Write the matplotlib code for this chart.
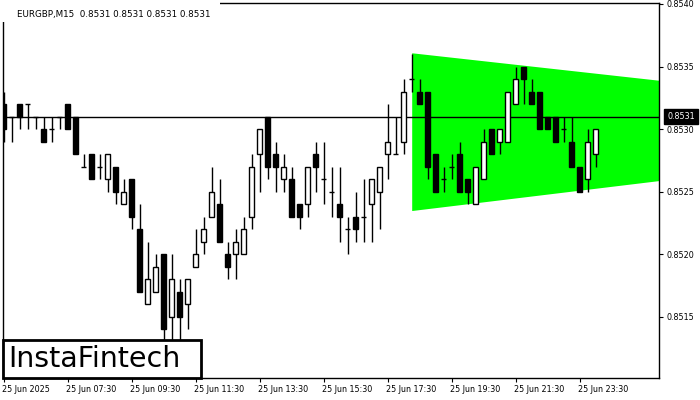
import numpy as np
import matplotlib
matplotlib.use('Agg')
import matplotlib.pyplot as plt
import matplotlib.transforms as mtransforms
from matplotlib.patches import Rectangle

# EURGBP M15 candles (index 0 = 25 Jun 05:30)
opens = [0.8532, 0.8531, 0.8532, 0.8532, 0.8531, 0.8530, 0.8530, 0.8531, 0.8532, 0.8531,
         0.8527, 0.8528, 0.8527, 0.8526, 0.8527, 0.8524, 0.8526, 0.8522, 0.8516, 0.8517,
         0.8520, 0.8515, 0.8517, 0.8516, 0.8519, 0.8521, 0.8523, 0.8524, 0.8520, 0.8520,
         0.8520, 0.8523, 0.8528, 0.8531, 0.8528, 0.8526, 0.8526, 0.8524, 0.8524, 0.8528,
         0.8526, 0.8525, 0.8524, 0.8522, 0.8523, 0.8523, 0.8524, 0.8525, 0.8528, 0.8528,
         0.8529, 0.8534, 0.8533, 0.8533, 0.8528, 0.8526, 0.8527, 0.8528, 0.8526, 0.8524,
         0.8526, 0.8530, 0.8529, 0.8529, 0.8532, 0.8535, 0.8533, 0.8533, 0.8531, 0.8531,
         0.8530, 0.8529, 0.8527, 0.8526, 0.8528]
highs = [0.8533, 0.8531, 0.8532, 0.8532, 0.8531, 0.8531, 0.8531, 0.8531, 0.8532, 0.8531,
         0.8528, 0.8528, 0.8528, 0.8528, 0.8527, 0.8526, 0.8526, 0.8524, 0.8521, 0.8520,
         0.8520, 0.8520, 0.8518, 0.8518, 0.8522, 0.8523, 0.8527, 0.8526, 0.8521, 0.8522,
         0.8523, 0.8528, 0.8530, 0.8531, 0.8529, 0.8528, 0.8527, 0.8524, 0.8527, 0.8529,
         0.8529, 0.8527, 0.8527, 0.8523, 0.8525, 0.8526, 0.8526, 0.8527, 0.8532, 0.8531,
         0.8534, 0.8536, 0.8534, 0.8533, 0.8528, 0.8527, 0.8528, 0.8529, 0.8526, 0.8527,
         0.8530, 0.8530, 0.8530, 0.8533, 0.8535, 0.8535, 0.8534, 0.8533, 0.8531, 0.8531,
         0.8531, 0.8531, 0.8527, 0.8530, 0.8530]
lows = [0.8529, 0.8529, 0.8530, 0.8530, 0.8530, 0.8529, 0.8529, 0.8530, 0.8530, 0.8528,
        0.8527, 0.8526, 0.8526, 0.8525, 0.8524, 0.8524, 0.8522, 0.8517, 0.8516, 0.8517,
        0.8512, 0.8512, 0.8512, 0.8514, 0.8519, 0.8520, 0.8523, 0.8521, 0.8518, 0.8518,
        0.8520, 0.8522, 0.8525, 0.8526, 0.8525, 0.8525, 0.8523, 0.8522, 0.8523, 0.8525,
        0.8524, 0.8523, 0.8521, 0.8520, 0.8521, 0.8521, 0.8521, 0.8522, 0.8526, 0.8528,
        0.8528, 0.8533, 0.8532, 0.8526, 0.8525, 0.8525, 0.8526, 0.8525, 0.8524, 0.8524,
        0.8526, 0.8528, 0.8528, 0.8529, 0.8532, 0.8532, 0.8532, 0.8530, 0.8530, 0.8529,
        0.8529, 0.8527, 0.8525, 0.8525, 0.8527]
closes = [0.8530, 0.8531, 0.8531, 0.8532, 0.8531, 0.8529, 0.8530, 0.8531, 0.8530, 0.8528,
          0.8527, 0.8526, 0.8527, 0.8528, 0.8525, 0.8525, 0.8523, 0.8517, 0.8518, 0.8519,
          0.8514, 0.8518, 0.8515, 0.8518, 0.8520, 0.8522, 0.8525, 0.8521, 0.8519, 0.8521,
          0.8522, 0.8527, 0.8530, 0.8527, 0.8527, 0.8527, 0.8523, 0.8523, 0.8527, 0.8527,
          0.8526, 0.8525, 0.8523, 0.8522, 0.8522, 0.8523, 0.8526, 0.8527, 0.8529, 0.8528,
          0.8533, 0.8534, 0.8532, 0.8527, 0.8525, 0.8526, 0.8527, 0.8525, 0.8525, 0.8527,
          0.8529, 0.8528, 0.8530, 0.8533, 0.8534, 0.8534, 0.8532, 0.8530, 0.8530, 0.8529,
          0.8530, 0.8527, 0.8525, 0.8529, 0.8530]

time_ticks = [0, 8, 16, 24, 32, 40, 48, 56, 64, 72]
time_labels = ['25 Jun 2025', '25 Jun 07:30', '25 Jun 09:30', '25 Jun 11:30', '25 Jun 13:30',
               '25 Jun 15:30', '25 Jun 17:30', '25 Jun 19:30', '25 Jun 21:30', '25 Jun 23:30']
price_ticks = [0.8515, 0.8520, 0.8525, 0.8530, 0.8535, 0.8540]

# symmetrical triangle (start bar and right edge)
tri_x = [51, 82]
tri_upper = [0.85361, 0.85339]
tri_lower = [0.85235, 0.85259]

current_price = 0.8531
title = 'EURGBP,M15  0.8531 0.8531 0.8531 0.8531'

W, H = 700, 400
fig = plt.figure(figsize=(7, 4), dpi=100)
L, R, T, B = 2.7, 659.3, 2.7, 378.3
ax = fig.add_axes([L / W, 1 - B / H, (R - L) / W, (B - T) / H])

ax.fill_between(tri_x, tri_lower, tri_upper, color='#00ff00', lw=0, zorder=1)
ax.axhline(current_price, color='black', lw=1, zorder=2)

x = np.arange(len(opens))
o = np.array(opens); c = np.array(closes); h = np.array(highs); l = np.array(lows)
ax.vlines(x, l, h, color='black', lw=1, zorder=3)
bw = 0.6
bull = c > o
bear = c < o
doji = c == o
ax.bar(x[bull], (c - o)[bull], bottom=o[bull], width=bw, facecolor='white',
       edgecolor='black', lw=1, zorder=4)
ax.bar(x[bear], (o - c)[bear], bottom=c[bear], width=bw, facecolor='black',
       edgecolor='black', lw=1, zorder=4)
ax.hlines(o[doji], x[doji] - bw / 2, x[doji] + bw / 2, color='black', lw=1, zorder=4)

ax.set_xlim(-0.125, 81.95)
ax.set_ylim(0.85101, 0.85401)

for s in ax.spines.values():
    s.set_linewidth(1)
    s.set_color('black')

ax.set_xticks(time_ticks)
ax.set_xticklabels(time_labels, ha='left', fontsize=5.8)
ax.tick_params(axis='x', direction='out', length=3, width=0.8, pad=1.5)
for lab in ax.get_xticklabels():
    lab.set_transform(lab.get_transform() + mtransforms.ScaledTranslation(-2 / 100, 0, fig.dpi_scale_trans))

ax.yaxis.tick_right()
ax.set_yticks(price_ticks)
ax.set_yticklabels(['%.4f' % p for p in price_ticks], fontsize=5.8)
ax.tick_params(axis='y', direction='out', length=3, width=0.8, pad=2)

# current price marker
ax.text(1.012, current_price, '0.8531', transform=ax.get_yaxis_transform(),
        ha='left', va='center', fontsize=5.8, color='white',
        bbox=dict(boxstyle='square,pad=0.35', fc='black', ec='black'))

# title with white backing over the frame
fig.patches.append(Rectangle((0, 1 - 22 / H), 220 / W, 22 / H, transform=fig.transFigure,
                             fc='white', ec='none', zorder=5))
fig.text(17 / W, 1 - 14 / H, title, fontsize=6.3, va='center', ha='left', zorder=6)

# logo box
ax.add_patch(Rectangle((0, 0), (201 - L) / (R - L), (B - 340) / (B - T),
                       transform=ax.transAxes, fc='white', ec='black', lw=2, zorder=8,
                       clip_on=False))
fig.text(8 / W, 1 - 359 / H, 'InstaFintech', fontsize=20.5, va='center', ha='left',
         color='black', zorder=9)

fig.savefig('out.png', dpi=100)
